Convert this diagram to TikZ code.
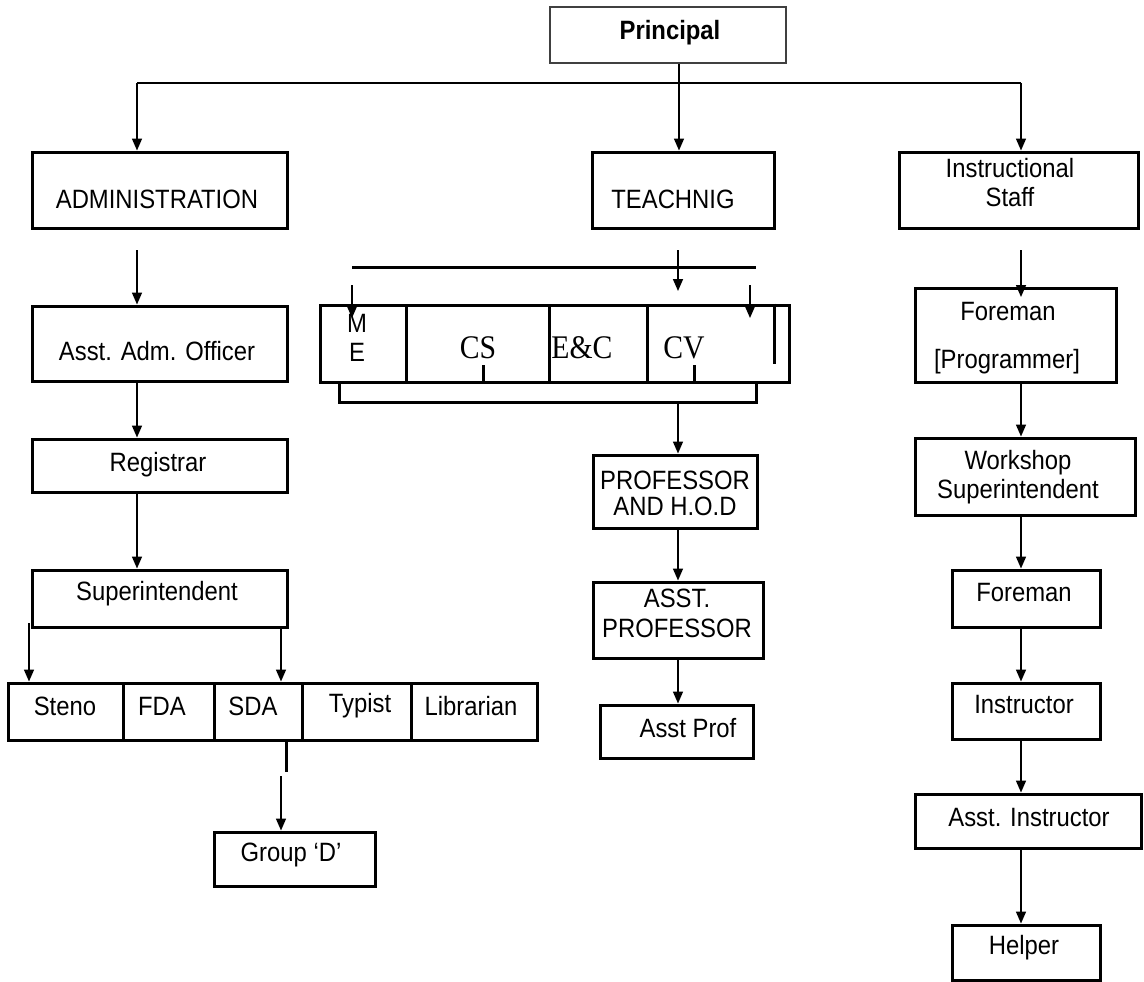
\documentclass[tikz,border=0pt]{standalone}
\usepackage{fontspec}
\setmainfont{Liberation Sans}[FakeStretch=0.9]
\newfontfamily\tnr{Liberation Serif}[FakeStretch=0.9]
\usetikzlibrary{arrows.meta,calc}
\begin{document}
\begin{tikzpicture}[x=1pt,y=-1pt,
  box/.style={draw, line width=3pt, inner sep=0pt},
  txt/.style={inner sep=0pt, align=center, font=\fontsize{26.5}{29}\selectfont},
  serif/.style={inner sep=0pt, font=\tnr\fontsize{33}{36}\selectfont},
  arr/.style={line width=1.6pt, -{Triangle[length=12pt,width=10pt]}},
  ln/.style={line width=3pt},
  conn/.style={line width=1.8pt}]
\fill[white] (0,0) rectangle (1144,982);
\useasboundingbox (0,0) rectangle (1144,982);

% ---------- boxes ----------
\node[box, draw=black!75, line width=2pt, minimum width=236pt, minimum height=56pt] (principal) at (668,35) {};
\node[box, minimum width=255pt, minimum height=76pt] (admin) at (159.5,190) {};
\node[box, minimum width=182pt, minimum height=76pt] (teach) at (683,190) {};
\node[box, minimum width=239pt, minimum height=76pt] (instr) at (1018.5,190) {};

\node[box, minimum width=255pt, minimum height=75pt] (aao) at (159.5,343.5) {};
\node[box, minimum width=255pt, minimum height=53pt] (reg) at (159.5,465.5) {};
\node[box, minimum width=255pt, minimum height=57pt] (sup) at (159.5,598.5) {};
\node[box, minimum width=115pt, minimum height=57pt] (steno) at (65.5,711.5) {};
\node[box, minimum width=91pt, minimum height=57pt] (fda) at (168.5,711.5) {};
\node[box, minimum width=88pt, minimum height=57pt] (sda) at (258,711.5) {};
\node[box, minimum width=109pt, minimum height=57pt] (typist) at (356.5,711.5) {};
\node[box, minimum width=126pt, minimum height=57pt] (lib) at (474,711.5) {};
\node[box, minimum width=161pt, minimum height=54pt] (groupd) at (294.5,859) {};

\node[box, minimum width=86pt, minimum height=77pt] (me) at (363,343.5) {};
\node[box, minimum width=143pt, minimum height=77pt] (cs) at (477.5,343.5) {};
\node[box, minimum width=98pt, minimum height=77pt] (ec) at (598,343.5) {};
\node[box, minimum width=142pt, minimum height=77pt] (cv) at (718,343.5) {};
\node[box, minimum width=164pt, minimum height=73pt] (prof) at (675,491.5) {};
\node[box, minimum width=170pt, minimum height=76pt] (aprof) at (678,620) {};
\node[box, minimum width=153pt, minimum height=53pt] (aprof2) at (676.5,731.5) {};

\node[box, minimum width=201pt, minimum height=94pt] (fore1) at (1015.5,335) {};
\node[box, minimum width=220pt, minimum height=77pt] (ws) at (1025,476.5) {};
\node[box, minimum width=148pt, minimum height=57pt] (fore2) at (1026,598.5) {};
\node[box, minimum width=148pt, minimum height=56pt] (instrc) at (1026,711) {};
\node[box, minimum width=226pt, minimum height=54pt] (ainstr) at (1028,821) {};
\node[box, minimum width=148pt, minimum height=55pt] (helper) at (1026,952.5) {};

% ---------- texts ----------
\node[txt, font=\bfseries\fontsize{26.5}{29}\selectfont] (tprin) at (670,33) {Principal};
\node[txt] (tadmin) at (157,199) {ADMINISTRATION};
\node[txt] (tteach) at (673,199) {TEACHNIG};
\node[txt] (tinstr) at (1010,183) {Instructional\\Staff};
\node[txt] (taao) at (157,351) {Asst. Adm. Officer};
\node[txt] (treg) at (158,465) {Registrar};
\node[txt] (tsup) at (157,594) {Superintendent};
\node[txt] (tsteno) at (65,706) {Steno};
\node[txt] (tfda) at (162,706) {FDA};
\node[txt] (tsda) at (253,706) {SDA};
\node[txt] (ttyp) at (360,706) {Typist};
\node[txt] (tlib) at (471,706) {Librarian};
\node[txt] (tgd) at (291,855) {Group ‘D’};
\node[txt] (tm) at (357,323) {M};
\node[txt] (te) at (357,352) {E};
\node[serif] (tcs) at (478,348) {CS};
\node[serif] (tec) at (582,348) {E\&C};
\node[serif] (tcv) at (684,348) {CV};
\node[txt, font=\fontsize{26.5}{26}\selectfont] (tprof) at (675,493) {PROFESSOR\\AND H.O.D};
\node[txt, font=\fontsize{26.5}{30}\selectfont] (taprof) at (677,613) {ASST.\\PROFESSOR};
\node[txt] (taprof2) at (688,728) {Asst Prof};
\node[txt] (tf1a) at (1008,312) {Foreman};
\node[txt] (tf1b) at (1007,362) {[Programmer]};
\node[txt] (tws) at (1018,477.5) {Workshop\\Superintendent};
\node[txt] (tf2) at (1024,593) {Foreman};
\node[txt] (tinc) at (1024,705) {Instructor};
\node[txt] (tai) at (1029,818) {Asst. Instructor};
\node[txt] (thelp) at (1024,948) {Helper};

% ---------- top connectors ----------
\coordinate (pj) at (679,83);
\coordinate (hl) at (137,83);
\coordinate (hr) at (1021,83);
\draw[conn] (hl) -- (hr);
\draw[conn] (principal.south -| pj) -- (pj);
\draw[arr] (pj) -- (pj |- teach.north);
\draw[arr] (hl) -- (hl |- admin.north);
\draw[arr] (hr) -- (hr |- instr.north);

% ---------- administration column ----------
\coordinate (a0) at (137,250);
\draw[arr] (a0) -- (a0 |- aao.north);
\draw[arr] (aao.south -| a0) -- (reg.north -| a0);
\draw[arr] (reg.south -| a0) -- (sup.north -| a0);
\coordinate (sl) at (29,623);
\draw[arr] (sl) -- (sl |- steno.north);
\coordinate (sr) at (281,627);
\draw[arr] (sr) -- (sr |- sda.north);
\coordinate (sdab) at (286,772);
\draw[ln] (sda.south -| sdab) -- (sdab);
\coordinate (gd0) at (281,776);
\draw[arr] (gd0) -- (gd0 |- groupd.north);

% ---------- teaching column ----------
\coordinate (tl) at (352,267);
\coordinate (tr) at (756,267);
\draw[ln] (tl) -- (tr);
\coordinate (t0) at (678,250);
\coordinate (t1) at (678,291);
\draw[arr] (t0) -- (t1);
\coordinate (mea) at (352,285);
\coordinate (meb) at (352,318);
\draw[arr] (mea) -- (meb);
\coordinate (cva) at (750,285);
\coordinate (cvb) at (750,318);
\draw[arr] (cva) -- (cvb);
\coordinate (ct) at (483,365);
\draw[ln] (ct) -- (ct |- cs.south);
\coordinate (vt) at (694,365);
\draw[ln] (vt) -- (vt |- cv.south);
\coordinate (pt) at (774,364);
\draw[ln] (cv.north -| pt) -- (pt);
\coordinate (bl) at (339,402);
\coordinate (br) at (756,402);
\draw[ln] (me.south -| bl) -- (bl) -- (br) -- (cv.south -| br);
\coordinate (pa) at (678,403);
\draw[arr] (pa) -- (pa |- prof.north);
\draw[arr] (prof.south -| pa) -- (aprof.north -| pa);
\draw[arr] (aprof.south -| pa) -- (aprof2.north -| pa);

% ---------- instructional staff column ----------
\coordinate (i0) at (1021,250);
\coordinate (i1) at (1021,297);
\draw[arr] (i0) -- (i1);
\draw[arr] (fore1.south -| i0) -- (ws.north -| i0);
\draw[arr] (ws.south -| i0) -- (fore2.north -| i0);
\draw[arr] (fore2.south -| i0) -- (instrc.north -| i0);
\draw[arr] (instrc.south -| i0) -- (ainstr.north -| i0);
\draw[arr] (ainstr.south -| i0) -- (helper.north -| i0);
\end{tikzpicture}
\end{document}
